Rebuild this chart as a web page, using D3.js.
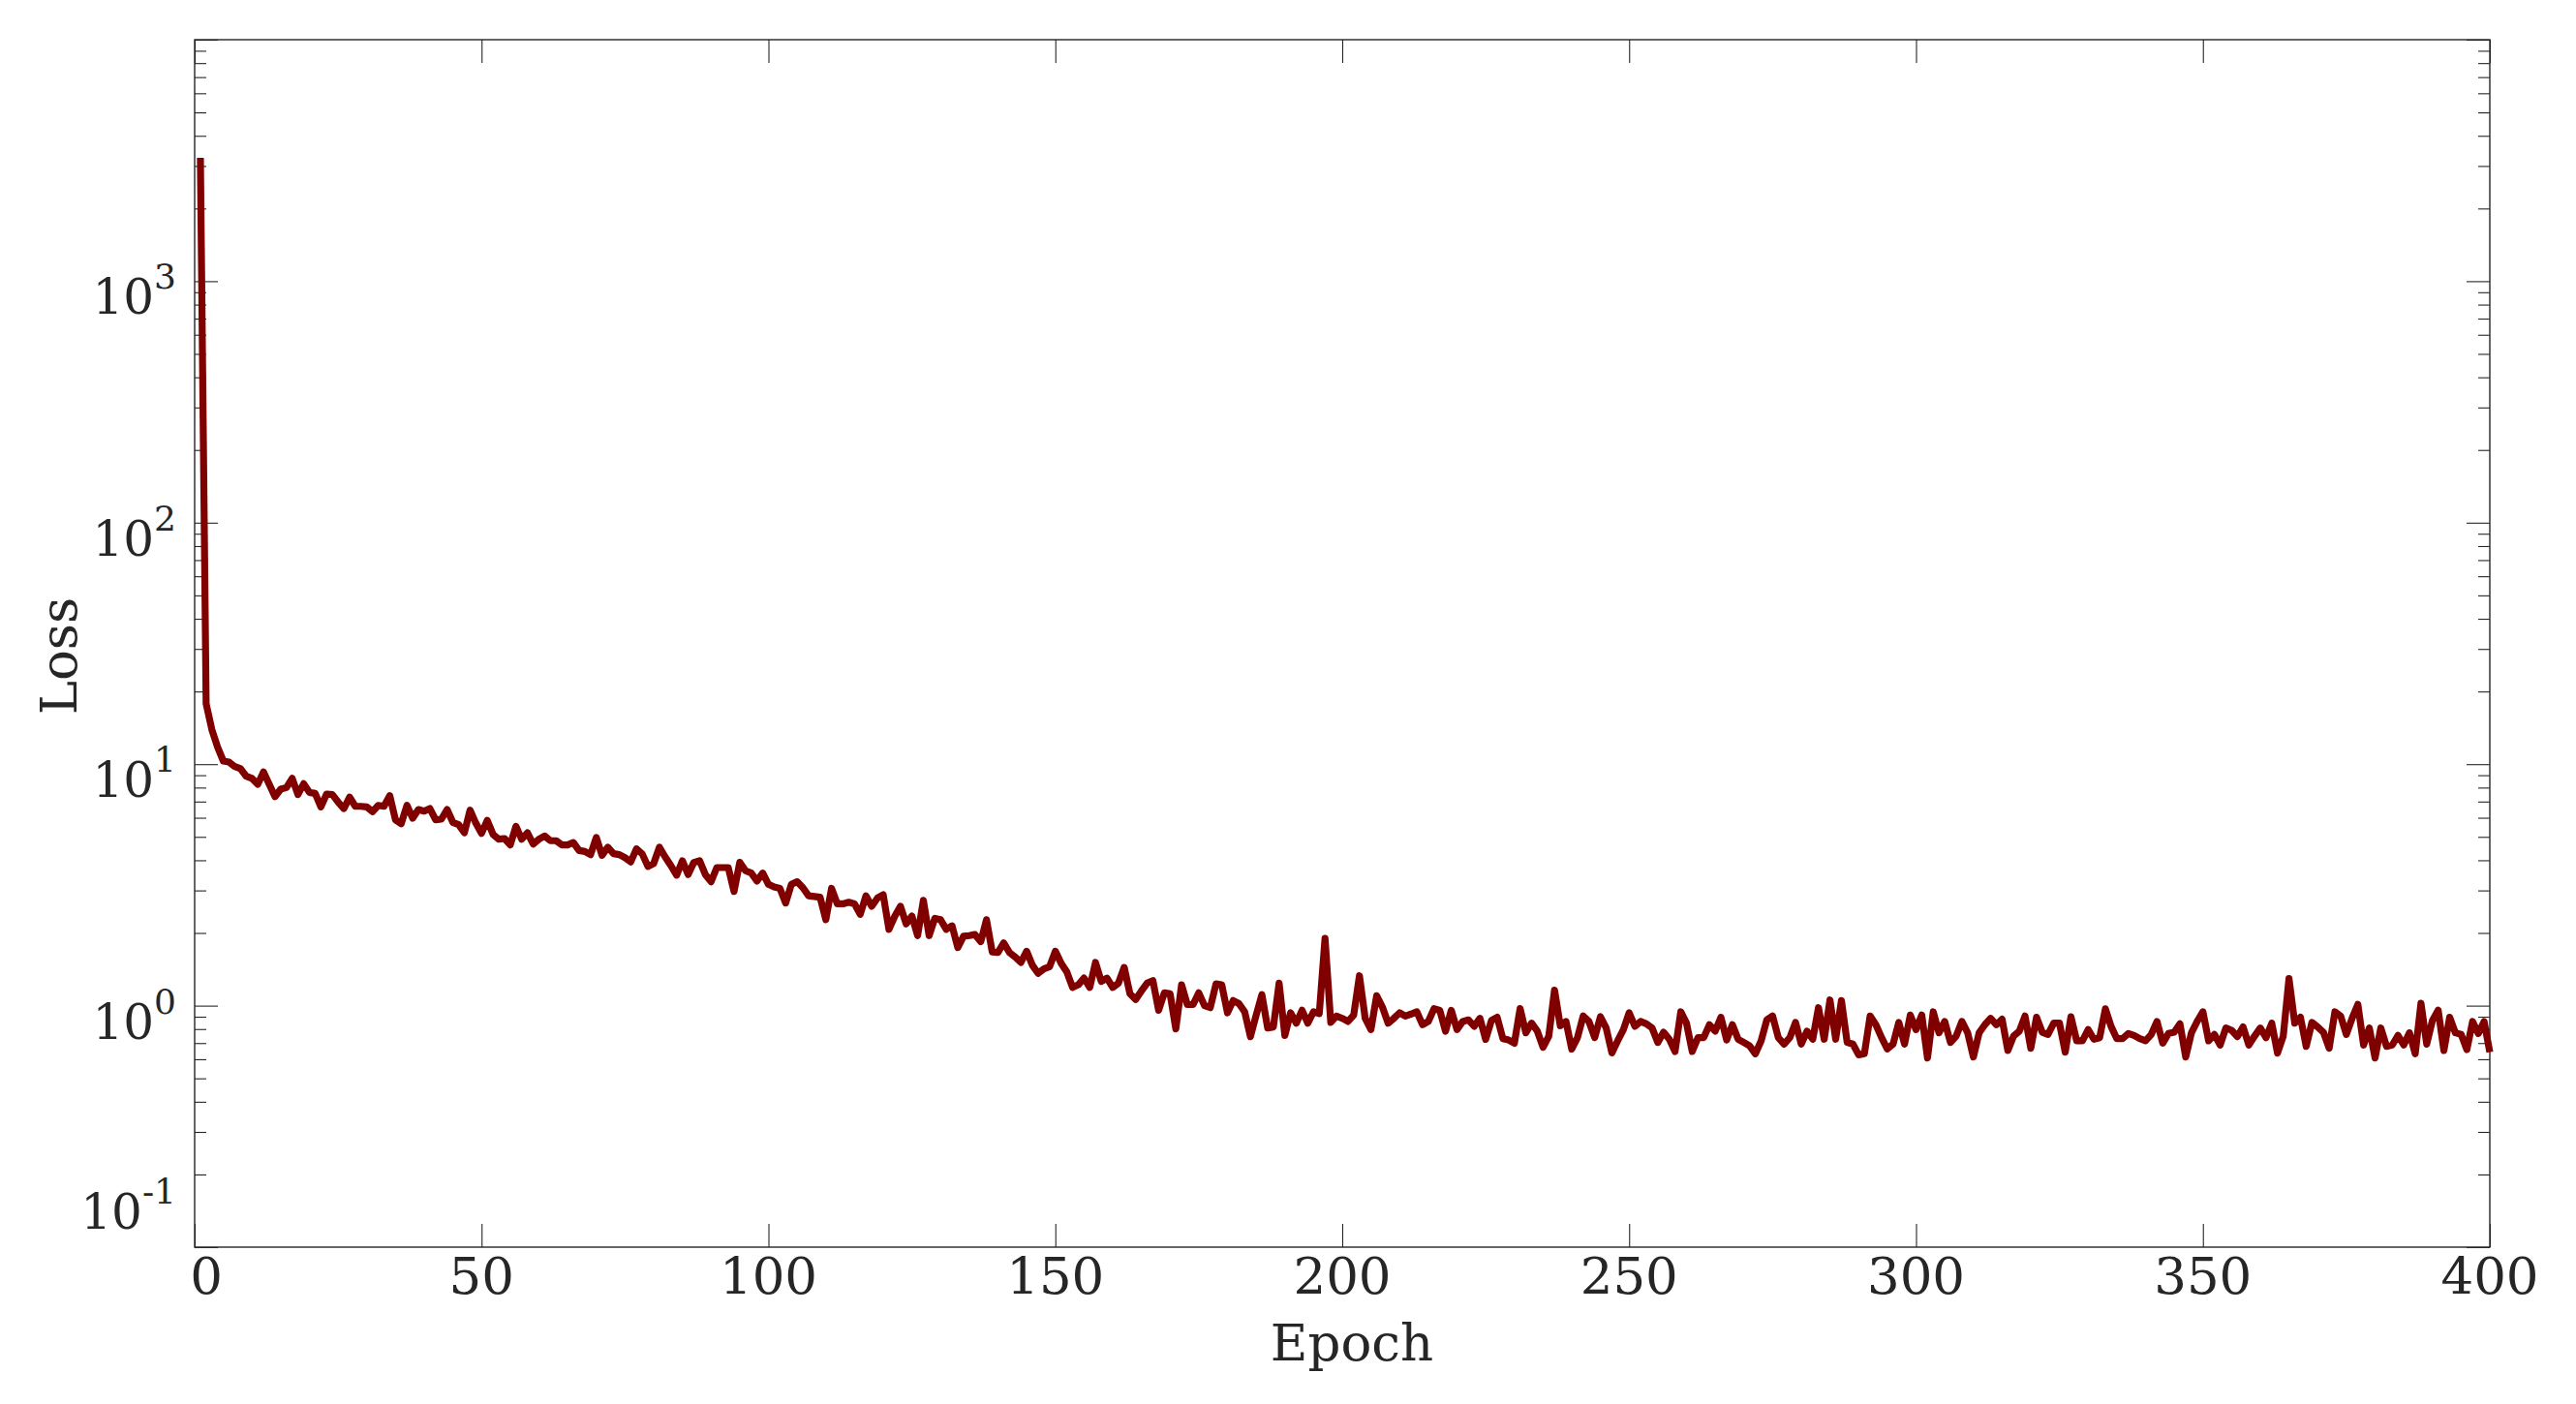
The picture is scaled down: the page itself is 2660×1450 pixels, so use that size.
<!DOCTYPE html>
<html>
<head>
<meta charset="utf-8">
<script src="https://cdn.jsdelivr.net/npm/d3@7"></script>
<style>
    body { margin: 0; background: #fff; }
    svg { display: block; }
    .tick-label, .axis-label { font-family: Georgia, 'DejaVu Serif', serif; fill: #262626; }
</style>
</head>
<body>
<svg id="chart" width="2660" height="1450"></svg>
<script>
// Training loss per epoch, starting at epoch 1 (10 per row)
const firstEpoch = 1;
const loss = [
    3240, 17.8, 13.9, 11.75, 10.3, 10.2, 9.77, 9.57, 8.91, 8.73,
    8.25, 9.28, 8.25, 7.34, 7.88, 8.0, 8.73, 7.48, 8.30, 7.64,
    7.57, 6.65, 7.52, 7.48, 6.97, 6.55, 7.30, 6.69, 6.69, 6.65,
    6.36, 6.75, 6.69, 7.41, 5.88, 5.67, 6.75, 5.97, 6.49, 6.39,
    6.55, 5.88, 5.92, 6.49, 5.74, 5.62, 5.20, 6.45, 5.70, 5.17,
    5.85, 5.12, 4.89, 4.92, 4.63, 5.53, 4.89, 5.20, 4.67, 4.89,
    5.04, 4.82, 4.82, 4.63, 4.63, 4.74, 4.39, 4.35, 4.22, 4.97,
    4.19, 4.53, 4.26, 4.22, 4.10, 3.94, 4.46, 4.25, 3.77, 3.88,
    4.53, 4.13, 3.80, 3.47, 3.98, 3.49, 3.92, 3.98, 3.49, 3.26,
    3.73, 3.73, 3.73, 2.97, 3.92, 3.62, 3.54, 3.28, 3.54, 3.18,
    3.10, 3.06, 2.66, 3.18, 3.26, 3.08, 2.85, 2.83, 2.81, 2.27,
    3.06, 2.64, 2.64, 2.68, 2.64, 2.39, 2.85, 2.58, 2.79, 2.88,
    2.07, 2.34, 2.58, 2.18, 2.35, 1.95, 2.73, 1.95, 2.30, 2.27,
    2.07, 2.14, 1.74, 1.94, 1.95, 1.97, 1.84, 2.27, 1.67, 1.66,
    1.82, 1.66, 1.59, 1.51, 1.68, 1.47, 1.36, 1.42, 1.45, 1.68,
    1.50, 1.38, 1.19, 1.22, 1.30, 1.19, 1.51, 1.26, 1.30, 1.19,
    1.24, 1.44, 1.12, 1.06, 1.15, 1.24, 1.27, 0.957, 1.13, 1.12,
    0.801, 1.22, 1.01, 1.01, 1.13, 1.00, 0.981, 1.23, 1.22, 0.934,
    1.05, 1.02, 0.943, 0.744, 0.914, 1.11, 0.808, 0.816, 1.24, 0.753,
    0.934, 0.846, 0.957, 0.846, 0.943, 0.928, 1.90, 0.852, 0.906, 0.886,
    0.860, 0.914, 1.33, 0.886, 0.796, 1.10, 0.987, 0.846, 0.886, 0.934,
    0.906, 0.923, 0.943, 0.834, 0.860, 0.972, 0.957, 0.784, 0.957, 0.796,
    0.860, 0.873, 0.821, 0.886, 0.725, 0.868, 0.895, 0.730, 0.721, 0.699,
    0.972, 0.772, 0.846, 0.784, 0.672, 0.748, 1.16, 0.826, 0.860, 0.661,
    0.737, 0.906, 0.860, 0.737, 0.900, 0.808, 0.637, 0.715, 0.796, 0.934,
    0.821, 0.860, 0.841, 0.808, 0.704, 0.776, 0.726, 0.646, 0.943, 0.846,
    0.646, 0.737, 0.737, 0.834, 0.784, 0.895, 0.721, 0.834, 0.726, 0.704,
    0.682, 0.632, 0.715, 0.873, 0.906, 0.737, 0.693, 0.737, 0.852, 0.693,
    0.784, 0.726, 0.981, 0.726, 1.056, 0.726, 1.05, 0.704, 0.693, 0.626,
    0.632, 0.906, 0.834, 0.737, 0.662, 0.693, 0.852, 0.693, 0.914, 0.796,
    0.914, 0.607, 0.943, 0.772, 0.860, 0.704, 0.748, 0.860, 0.772, 0.613,
    0.772, 0.834, 0.886, 0.834, 0.878, 0.652, 0.748, 0.784, 0.906, 0.666,
    0.895, 0.776, 0.760, 0.846, 0.846, 0.642, 0.900, 0.715, 0.715, 0.796,
    0.726, 0.737, 0.970, 0.820, 0.730, 0.730, 0.767, 0.753, 0.730, 0.715,
    0.760, 0.860, 0.699, 0.767, 0.776, 0.841, 0.613, 0.772, 0.860, 0.943,
    0.715, 0.760, 0.687, 0.808, 0.791, 0.744, 0.816, 0.687, 0.748, 0.808,
    0.737, 0.846, 0.636, 0.748, 1.294, 0.846, 0.895, 0.678, 0.852, 0.816,
    0.776, 0.666, 0.943, 0.906, 0.760, 0.886, 1.012, 0.687, 0.808, 0.607,
    0.808, 0.678, 0.687, 0.753, 0.687, 0.772, 0.632, 1.024, 0.693, 0.868,
    0.957, 0.652, 0.895, 0.772, 0.760, 0.658, 0.860, 0.767, 0.860, 0.642
];

// Axes
const xDomain = [0, 400],
    xTicks = [0, 50, 100, 150, 200, 250, 300, 350, 400],
    yDomain = [0.1, 10000],
    yExponents = [-1, 0, 1, 2, 3],
    xLabel = 'Epoch',
    yLabel = 'Loss';

/**
 * Visual configs.
 */
const margin = { top: 41, right: 89, bottom: 162, left: 201 },
    svgWidth = 2660, svgHeight = 1450,
    width = svgWidth - margin.left - margin.right,
    height = svgHeight - margin.top - margin.bottom,
    majorTick = 24,
    minorTick = 12,
    inkColor = '#262626',
    lineColor = '#800000';

const svg = d3.select('#chart');
const g = svg.append('g').attr('transform', 'translate(' + margin.left + ',' + margin.top + ')');

const x = d3.scaleLinear().domain(xDomain).range([0, width]);
const y = d3.scaleLog().domain(yDomain).range([height, 0]);

// Minor log ticks: 2..9 of every decade inside the domain
const yMajor = yExponents.map(e => Math.pow(10, e)).concat([1e4]);
const yMinor = y.ticks().filter(v => yMajor.every(m => Math.abs(v / m - 1) > 1e-6));

function styleAxis(sel) {
    sel.select('.domain').remove();
    sel.selectAll('.tick line').attr('stroke', inkColor).attr('stroke-width', 1.1);
    sel.selectAll('.tick text').remove();
}

// Ticks point inwards on all four sides
g.append('g').attr('transform', 'translate(0,' + height + ')')
    .call(d3.axisBottom(x).tickValues(xTicks).tickSizeInner(-majorTick).tickSizeOuter(0).tickFormat(''))
    .call(styleAxis);
g.append('g')
    .call(d3.axisTop(x).tickValues(xTicks).tickSizeInner(-majorTick).tickSizeOuter(0).tickFormat(''))
    .call(styleAxis);
[[d3.axisLeft, 0], [d3.axisRight, width]].forEach(([axis, tx]) => {
    g.append('g').attr('transform', 'translate(' + tx + ',0)')
        .call(axis(y).tickValues(yMajor).tickSizeInner(-majorTick).tickSizeOuter(0).tickFormat(''))
        .call(styleAxis);
    g.append('g').attr('transform', 'translate(' + tx + ',0)')
        .call(axis(y).tickValues(yMinor).tickSizeInner(-minorTick).tickSizeOuter(0).tickFormat(''))
        .call(styleAxis);
});

// Frame
g.append('rect')
    .attr('width', width).attr('height', height)
    .attr('fill', 'none').attr('stroke', inkColor).attr('stroke-width', 1.4);

// Loss curve
const line = d3.line()
    .x((d, i) => x(firstEpoch + i))
    .y(d => y(d));

g.append('path')
    .datum(loss)
    .attr('d', line)
    .attr('fill', 'none')
    .attr('stroke', lineColor)
    .attr('stroke-width', 7.2)
    .attr('stroke-linejoin', 'round');

// X tick labels (first one nudged away from the corner)
g.append('g').selectAll('text').data(xTicks).join('text')
    .attr('class', 'tick-label')
    .attr('x', d => x(d) + (d === xDomain[0] ? 12 : 0))
    .attr('y', height + 48)
    .attr('text-anchor', 'middle')
    .attr('font-size', 53)
    .text(d => d);

// Y tick labels as 10^e (lowest one nudged up from the corner)
const yLabels = g.append('g').selectAll('text').data(yExponents).join('text')
    .attr('class', 'tick-label')
    .attr('x', -19)
    .attr('y', d => y(Math.pow(10, d)) + 34 - (d === yExponents[0] ? 53 : 0))
    .attr('text-anchor', 'end')
    .attr('font-size', 50);
yLabels.append('tspan').text('10');
yLabels.append('tspan').attr('dy', -26).attr('font-size', 36).text(d => d);

// Axis titles
g.append('text')
    .attr('class', 'axis-label')
    .attr('x', width / 2 + 10)
    .attr('y', height + 117)
    .attr('text-anchor', 'middle')
    .attr('font-size', 53)
    .text(xLabel);

g.append('text')
    .attr('class', 'axis-label')
    .attr('transform', 'translate(' + (79 - margin.left) + ',' + (height / 2 + 13) + ') rotate(-90)')
    .attr('text-anchor', 'middle')
    .attr('font-size', 53)
    .text(yLabel);
</script>
</body>
</html>
